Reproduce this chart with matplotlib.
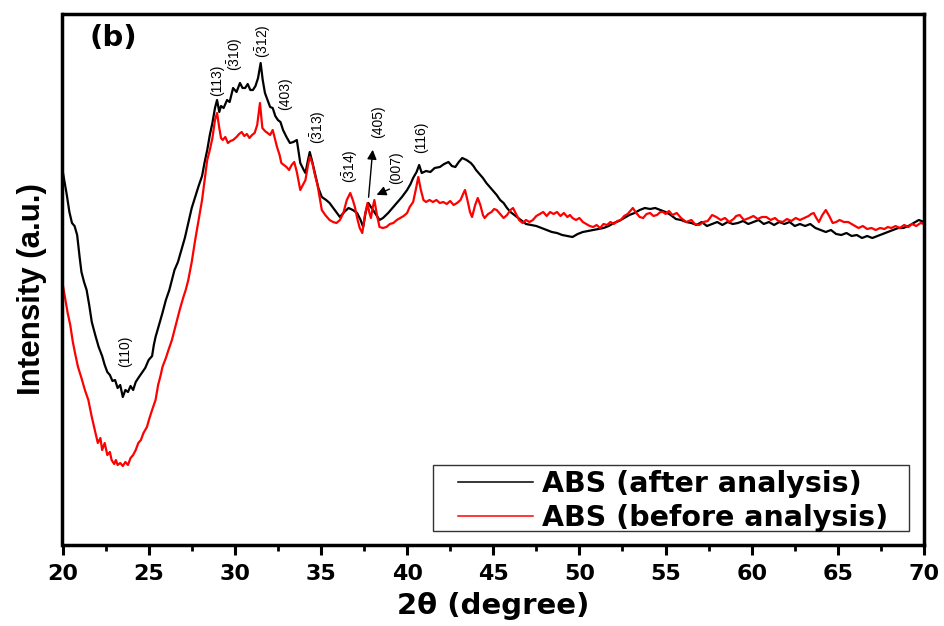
import matplotlib
matplotlib.use("Agg")
import matplotlib.pyplot as plt
from matplotlib.patches import Rectangle
from matplotlib.ticker import MultipleLocator

# ABS XRD patterns, intensity in arbitrary units
after_2theta = [
    20.0, 20.1, 20.25, 20.4, 20.55, 20.7, 20.85, 21.0, 21.1, 21.25,
    21.4, 21.55, 21.7, 21.9, 22.1, 22.3, 22.45, 22.6, 22.75, 22.9,
    23.05, 23.2, 23.35, 23.5, 23.65, 23.8, 23.95, 24.1, 24.25, 24.4,
    24.6, 24.8, 25.0, 25.2, 25.3, 25.4, 25.6, 25.8, 26.0, 26.2,
    26.35, 26.5, 26.7, 26.9, 27.1, 27.3, 27.5, 27.7, 27.9, 28.1,
    28.25, 28.4, 28.55, 28.7, 28.85, 28.97, 29.1, 29.2, 29.35, 29.55,
    29.7, 29.9, 30.1, 30.3, 30.45, 30.6, 30.75, 30.9, 31.05, 31.2,
    31.35, 31.5, 31.62, 31.75, 31.9, 32.05, 32.2, 32.35, 32.5, 32.65,
    32.8, 33.0, 33.2, 33.4, 33.6, 33.8, 34.0, 34.1, 34.25, 34.35,
    34.5, 34.65, 34.85, 35.05, 35.3, 35.5, 35.8, 36.1, 36.35, 36.6,
    36.85, 37.1, 37.3, 37.45, 37.6, 37.75, 37.9, 38.1, 38.4, 38.6,
    38.9, 39.15, 39.4, 39.7, 40.0, 40.2, 40.35, 40.55, 40.7, 40.85,
    41.1, 41.35, 41.6, 41.9, 42.15, 42.4, 42.6, 42.8, 43.0, 43.2,
    43.45, 43.7, 43.85, 44.0, 44.2, 44.4, 44.6, 44.8, 45.0, 45.2,
    45.4, 45.6, 45.8, 46.0, 46.3, 46.6, 46.9, 47.2, 47.5, 47.8,
    48.1, 48.4, 48.7, 49.0, 49.3, 49.6, 49.9, 50.2, 50.5, 50.8,
    51.1, 51.4, 51.7, 52.0, 52.3, 52.6, 52.9, 53.2, 53.5, 53.8,
    54.1, 54.4, 54.7, 55.0, 55.3, 55.6, 55.9, 56.2, 56.5, 56.8,
    57.1, 57.4, 57.7, 58.0, 58.3, 58.6, 58.9, 59.2, 59.5, 59.8,
    60.1, 60.4, 60.7, 61.0, 61.3, 61.6, 61.9, 62.2, 62.5, 62.8,
    63.1, 63.4, 63.7, 64.0, 64.3, 64.6, 64.9, 65.2, 65.5, 65.8,
    66.1, 66.4, 66.7, 67.0, 67.3, 67.6, 67.9, 68.2, 68.5, 68.8,
    69.1, 69.4, 69.7, 70.0,
]
after_intensity = [
    830, 820, 805, 788, 777, 774, 765, 742, 728, 718,
    710, 695, 678, 665, 653, 644, 635, 628, 625, 619,
    620, 612, 615, 603, 610, 608, 614, 610, 618, 622,
    627, 632, 640, 644, 655, 663, 675, 687, 700, 710,
    720, 730, 738, 750, 762, 777, 792, 803, 814, 824,
    838, 850, 865, 877, 892, 900, 888, 894, 892, 900,
    898, 912, 908, 917, 912, 912, 916, 910, 910, 914,
    922, 937, 920, 907, 900, 893, 892, 884, 880, 878,
    870, 863, 857, 858, 860, 837, 830, 827, 840, 848,
    838, 827, 812, 803, 800, 797, 790, 783, 788, 792,
    790, 787, 780, 773, 788, 797, 793, 788, 780, 782,
    787, 792, 797, 803, 810, 816, 822, 828, 835, 827,
    829, 828, 832, 833, 836, 838, 834, 833, 838, 842,
    840, 837, 834, 830, 826, 822, 817, 813, 809, 805,
    800, 797, 792, 788, 784, 780, 776, 775, 774, 772,
    770, 768, 767, 765, 764, 763, 766, 768, 769, 770,
    771, 772, 774, 777, 779, 782, 785, 787, 790, 792,
    791, 792, 790, 788, 785, 781, 780, 778, 777, 775,
    778, 774, 776, 778, 775, 778, 776, 777, 779, 776,
    778, 780, 776, 778, 775, 778, 776, 778, 774, 776,
    774, 776, 772, 770, 768, 770, 766, 765, 767, 764,
    765, 762, 764, 762, 764, 766, 768, 770, 772, 772,
    774, 777, 780, 778,
]

before_2theta = [
    20.0, 20.15, 20.3, 20.45, 20.6, 20.75, 20.9, 21.1, 21.3, 21.5,
    21.7, 21.85, 22.05, 22.2, 22.3, 22.45, 22.6, 22.75, 22.85, 23.0,
    23.1, 23.2, 23.35, 23.5, 23.65, 23.8, 23.95, 24.1, 24.25, 24.4,
    24.55, 24.7, 24.9, 25.05, 25.2, 25.4, 25.55, 25.7, 25.8, 26.0,
    26.15, 26.35, 26.5, 26.65, 26.8, 27.0, 27.15, 27.3, 27.5, 27.7,
    27.9, 28.1, 28.25, 28.4, 28.55, 28.7, 28.85, 28.97, 29.1, 29.2,
    29.3, 29.45, 29.6, 29.75, 29.9, 30.1, 30.25, 30.4, 30.55, 30.7,
    30.85, 31.0, 31.15, 31.3, 31.46, 31.6, 31.75, 31.9, 32.05, 32.2,
    32.35, 32.45, 32.6, 32.7, 32.85, 33.0, 33.15, 33.3, 33.45, 33.6,
    33.8, 33.95, 34.1, 34.25, 34.35, 34.5, 34.65, 34.8, 34.95, 35.05,
    35.25, 35.5, 35.7, 35.9, 36.1, 36.3, 36.5, 36.7, 36.85, 36.97,
    37.1, 37.25, 37.4, 37.55, 37.7, 37.8, 37.9, 38.0, 38.1, 38.25,
    38.4, 38.6, 38.8, 39.0, 39.2, 39.4, 39.6, 39.8, 40.0, 40.15,
    40.35, 40.5, 40.65, 40.8, 40.95, 41.1, 41.3, 41.5, 41.7, 41.9,
    42.1, 42.3, 42.5, 42.7, 42.9, 43.1, 43.25, 43.36, 43.5, 43.65,
    43.77, 43.95, 44.1, 44.25, 44.4, 44.5, 44.7, 44.9, 45.05, 45.2,
    45.4, 45.6, 45.8, 46.0, 46.15, 46.35, 46.5, 46.7, 46.9, 47.1,
    47.3, 47.5, 47.7, 47.9, 48.1, 48.3, 48.5, 48.7, 48.9, 49.1,
    49.3, 49.45, 49.6, 49.8, 50.0, 50.2, 50.4, 50.6, 50.8, 51.0,
    51.2, 51.4, 51.6, 51.8, 52.0, 52.2, 52.4, 52.6, 52.8, 53.0,
    53.1, 53.3, 53.5, 53.7, 53.9, 54.1, 54.3, 54.5, 54.7, 54.85,
    55.0, 55.2, 55.4, 55.65, 55.9, 56.2, 56.5, 56.7, 56.95, 57.2,
    57.45, 57.7, 57.95, 58.2, 58.45, 58.7, 58.95, 59.1, 59.3, 59.55,
    59.85, 60.1, 60.35, 60.6, 60.85, 61.1, 61.35, 61.55, 61.8, 62.05,
    62.3, 62.55, 62.8, 63.05, 63.3, 63.45, 63.6, 63.75, 63.9, 64.1,
    64.3, 64.5, 64.7, 64.9, 65.1, 65.35, 65.6, 65.9, 66.2, 66.45,
    66.7, 66.95, 67.2, 67.45, 67.7, 67.9, 68.1, 68.35, 68.6, 68.85,
    69.1, 69.3, 69.55, 69.8, 70.0,
]
before_intensity = [
    717, 702, 687, 675, 658, 645, 633, 622, 610, 600,
    583, 572, 557, 562, 550, 557, 545, 548, 540, 536,
    540, 535, 537, 534, 538, 535, 542, 545, 550, 557,
    560, 567, 573, 582, 590, 600, 615, 625, 633, 642,
    650, 660, 670, 680, 690, 702, 710, 720, 738, 760,
    780, 800, 820, 840, 850, 862, 880, 887, 872, 862,
    860, 863, 857, 859, 860, 863, 866, 868, 864, 866,
    862, 865, 867, 875, 897, 872, 869, 867, 865, 870,
    860, 853, 845, 837, 835, 833, 830, 835, 838, 828,
    810, 815, 820, 835, 843, 837, 825, 815, 800, 790,
    785, 780, 778, 777, 780, 787, 800, 807, 800, 793,
    782, 772, 767, 785, 797, 788, 782, 792, 800, 785,
    773, 772, 773, 776, 777, 780, 782, 784, 787, 793,
    798, 810, 823, 810, 800, 798, 800, 798, 800, 797,
    798, 796, 799, 795, 797, 800, 806, 810, 800, 788,
    783, 795, 802, 795, 785, 782, 786, 788, 791, 790,
    786, 782, 785, 790, 792, 785, 780, 777, 780, 778,
    780, 784, 786, 788, 784, 788, 786, 788, 784, 787,
    783, 785, 782, 780, 782, 778, 776, 774, 773, 775,
    772, 776, 775, 778, 776, 779, 780, 784, 786, 790,
    792, 787, 783, 782, 786, 787, 784, 785, 788, 788,
    786, 789, 785, 787, 782, 778, 780, 776, 775, 778,
    779, 785, 783, 780, 782, 778, 781, 784, 785, 780,
    782, 784, 781, 783, 783, 780, 782, 779, 778, 781,
    779, 782, 780, 782, 784, 786, 787, 782, 778, 785,
    790, 784, 777, 778, 780, 778, 778, 775, 772, 774,
    771, 772, 770, 772, 771, 773, 772, 774, 772, 775,
    773, 776, 774, 777, 776,
]

# peak labels (Miller indices) and where they sit
peak_labels = [r"(110)", r"(113)", r"$(\bar{3}10)$", r"$(\bar{3}12)$", r"(403)",
               r"$(\bar{3}13)$", r"$(\bar{3}14)$", r"(405)", r"(007)", r"(116)"]
peak_label_x = [23.63, 28.97, 30.0, 31.64, 32.91, 34.83, 36.7, 38.31, 39.35, 40.8]
peak_label_y = [649, 920, 946, 959, 906, 873, 834, 878, 832, 863]

plt.rcParams["font.family"] = "DejaVu Sans"
plt.rcParams["mathtext.fontset"] = "custom"
plt.rcParams["mathtext.rm"] = "Liberation Sans"
plt.rcParams["mathtext.it"] = "Liberation Sans:italic"
plt.rcParams["mathtext.bf"] = "Liberation Sans:bold"

fig = plt.figure(figsize=(9.45, 6.26), dpi=100)
ax = fig.add_axes([62.5 / 945, 81 / 626, 861.5 / 945, 531 / 626])

ax.plot(after_2theta, after_intensity, color="black", lw=1.6,
        label="ABS (after analysis)")
ax.plot(before_2theta, before_intensity, color="#ff0000", lw=1.6,
        label="ABS (before analysis)")

for lab, x, y in zip(peak_labels, peak_label_x, peak_label_y):
    ax.text(x, y, lab, rotation=90, ha="center", va="center",
            fontsize=10, family="Liberation Sans")

# arrows for the two overlapping reflections
arrow = dict(arrowstyle="-|>", color="black", lw=1.0, mutation_scale=14)
ax.annotate("", xy=(38.02, 853), xytext=(37.75, 800), arrowprops=arrow)
ax.annotate("", xy=(38.08, 804), xytext=(39.12, 812), arrowprops=arrow)

ax.text(0.0592, 0.955, "(b)", transform=ax.transAxes, ha="center",
        va="center", fontsize=21, fontweight="bold")

ax.set_xlim(20, 70)
ax.set_ylim(455, 986)
ax.xaxis.set_major_locator(MultipleLocator(5))
ax.xaxis.set_minor_locator(MultipleLocator(2.5))
ax.set_yticks([])
ax.tick_params(axis="x", which="major", direction="out", length=7.5,
               width=2.2, pad=6, labelsize=16)
ax.tick_params(axis="x", which="minor", direction="out", length=4.5, width=2.0)
for t in ax.get_xticklabels():
    t.set_fontweight("bold")
for sp in ax.spines.values():
    sp.set_linewidth(2.5)

ax.set_xlabel("2θ (degree)", fontsize=21, fontweight="bold", labelpad=6)
ax.set_ylabel("Intensity (a.u.)", fontsize=22.5, fontweight="bold",
              family="Liberation Sans")
ax.yaxis.label.set_va("center")
ax.yaxis.set_label_coords(-0.0354, 0.482)

# legend box drawn separately so its padding matches the original
ax.add_patch(Rectangle((0.430, 0.0264), 0.5526, 0.1243, transform=ax.transAxes,
                       facecolor="white", edgecolor="#333333", lw=1.0, zorder=4))
leg = ax.legend(loc="upper left", bbox_to_anchor=(0.459, 0.1412),
                borderaxespad=0, borderpad=0, frameon=False,
                prop={"weight": "bold", "size": 20.5},
                handlelength=2.65, handletextpad=0.32, labelspacing=0.2)
leg.set_zorder(5)
for h in leg.get_lines():
    h.set_linewidth(1.1)

fig.savefig("out.png", dpi=100, facecolor="white")
